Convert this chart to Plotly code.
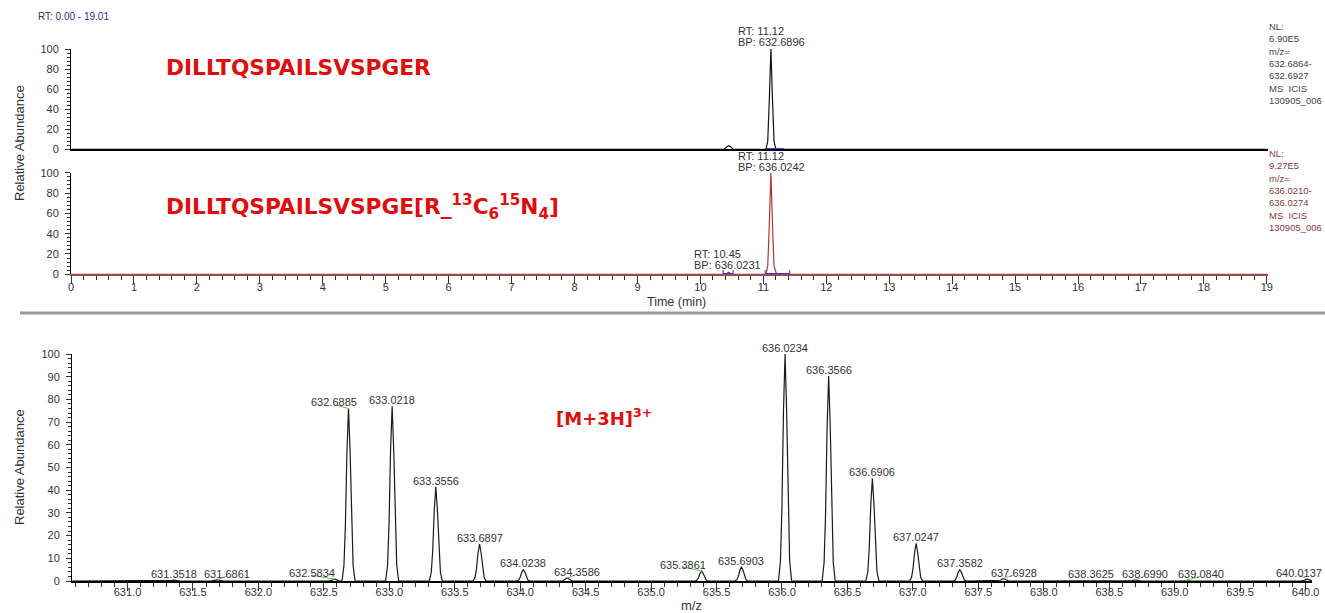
import plotly.graph_objects as go

W, H = 1325, 613

# ---------------- data ----------------
# panel 1: unlabelled peptide XIC (relative abundance vs time, min)
RT_LIGHT = [0.00, 10.38, 10.42, 10.45, 10.48, 10.52, 11.04, 11.07, 11.095, 11.12, 11.145, 11.17, 11.20, 19.01]
AB_LIGHT = [0, 0, 2.5, 3.5, 2.5, 0, 0, 8, 50, 100, 50, 8, 0, 0]
# panel 2: heavy labelled peptide XIC
RT_HEAVY = [0.00, 10.40, 10.45, 10.50, 11.04, 11.07, 11.095, 11.12, 11.145, 11.17, 11.21, 19.01]
AB_HEAVY = [0, 0, 2, 0, 0, 8, 50, 100, 50, 8, 0, 0]
# blue peak-detection marks
BLUE1_T = [11.03, 11.32]
BLUE2A_T = [10.36, 10.52]
BLUE2B_T = [11.03, 11.42]

# chromatogram peak labels
LIGHT_RT, LIGHT_BP = "11.12", "632.6896"
HEAVY_RT, HEAVY_BP = "11.12", "636.0242"
MINOR_RT, MINOR_BP = "10.45", "636.0231"

NL_LIGHT = ["NL:", "6.90E5", "m/z=", "632.6864-", "632.6927", "MS  ICIS", "130905_006"]
NL_HEAVY = ["NL:", "9.27E5", "m/z=", "636.0210-", "636.0274", "MS  ICIS", "130905_006"]

# mass spectrum: centroid m/z and relative abundance
PEAK_MZ = [631.3518, 631.6861, 632.5834, 632.6885, 633.0218, 633.3556, 633.6897,
           634.0238, 634.3586, 635.3861, 635.6903, 636.0234, 636.3566, 636.6906,
           637.0247, 637.3582, 637.6928, 638.3625, 638.6990, 639.0840, 640.0137]
PEAK_INT = [0.4, 0.5, 0.8, 76, 77, 41.5, 16.3,
            5.1, 1.3, 4.4, 6.3, 100, 90.3, 45.2,
            16.6, 5.1, 1.0, 0.3, 0.5, 0.3, 0.8]

RT_RANGE = [0.0, 19.01]
MZ_RANGE = [630.576, 640.049]

# ---------------- styles ----------------
# label horizontal offsets (px) and profile peak template (shape only)
LABEL_DX = [0, 10, -23, -15, 0, 0, 0, 0, 10, -19, 0, 0, 0, 0, 0, 0, 10, 0, 10, 15, -8]
SHAPE_DX = [-0.05, -0.035, -0.024, -0.012, 0.0, 0.012, 0.024, 0.035, 0.05]
SHAPE_FR = [0, 0.09, 0.32, 0.75, 1, 0.75, 0.32, 0.09, 0]

TXT = "#333333"
FONT = "Liberation Sans, Arial, sans-serif"
RED = "#e00d0d"


def X(px):
    return px / W


def Y(py):
    return 1 - py / H


fig = go.Figure()

fig.add_trace(go.Scatter(x=RT_LIGHT, y=AB_LIGHT, xaxis="x", yaxis="y", mode="lines",
                         line=dict(color="#111111", width=1.2), hoverinfo="skip"))
fig.add_trace(go.Scatter(x=BLUE1_T, y=[0.8, 0.8], xaxis="x", yaxis="y", mode="lines",
                         line=dict(color="#3a3ac8", width=1.2), hoverinfo="skip"))
fig.add_trace(go.Scatter(x=RT_HEAVY, y=AB_HEAVY, xaxis="x2", yaxis="y2", mode="lines",
                         line=dict(color="#b03434", width=1.2), hoverinfo="skip"))
for seg in (BLUE2A_T, BLUE2B_T):
    fig.add_trace(go.Scatter(x=seg, y=[0.8, 0.8], xaxis="x2", yaxis="y2", mode="lines+markers",
                             marker=dict(symbol="line-ns", size=5, line=dict(color="#3a3ac8", width=1)),
                             line=dict(color="#3a3ac8", width=1.2), hoverinfo="skip"))

# profile spectrum built from the centroid list
sx, sy = [MZ_RANGE[0]], [0]
for mz, a in zip(PEAK_MZ, PEAK_INT):
    for d, f in zip(SHAPE_DX, SHAPE_FR):
        sx.append(mz + d)
        sy.append(a * f)
sx.append(MZ_RANGE[1])
sy.append(0)
fig.add_trace(go.Scatter(x=sx, y=sy, xaxis="x3", yaxis="y3", mode="lines",
                         line=dict(color="#1a1a1a", width=1.2), hoverinfo="skip"))

tickfont = dict(family=FONT, size=11, color=TXT)


def yax(dom, dtick, mdtick):
    return dict(domain=dom, range=[0, 100], showline=True, linecolor="black", linewidth=1,
                ticks="outside", ticklen=5, tickcolor=TXT, dtick=dtick, tick0=0,
                minor=dict(ticks="outside", dtick=mdtick, tick0=0, ticklen=3, tickcolor=TXT),
                tickfont=tickfont, showgrid=False, zeroline=False, ticklabelstandoff=4,
                fixedrange=True, automargin=False)


annotations = []


def ann(text, x, y, xref="paper", yref="paper", xanchor="left", yanchor="middle",
        size=11, color=TXT, family=FONT, xshift=0, yshift=0, align="left", angle=0):
    annotations.append(dict(text=text, x=x, y=y, xref=xref, yref=yref, xanchor=xanchor,
                            yanchor=yanchor, showarrow=False, align=align, textangle=angle,
                            xshift=xshift, yshift=yshift,
                            font=dict(family=family, size=size, color=color)))


ann('RT: <span style="color:#2e2e8a">%.2f - %.2f</span>' % (RT_RANGE[0], RT_RANGE[1]),
    X(36), Y(17), size=10)
ann("<br>".join(NL_LIGHT), X(1267), Y(19), yanchor="top", size=9.5, color="#444444")
ann("<br>".join(NL_HEAVY), X(1267), Y(146), yanchor="top", size=9.5, color="#8b3a3a")

ann("Relative Abundance", X(19), Y(143), xanchor="center", size=13, angle=-90)
ann("Relative Abundance", X(19), Y(467), xanchor="center", size=13, angle=-90)
ann("Time (min)", X(676), Y(302), xanchor="center", size=12.5)
ann("m/z", X(692), Y(605), xanchor="center", size=13)

TFONT = "DejaVu Sans, Verdana, sans-serif"
ann("<b>DILLTQSPAILSVSPGER</b>", X(164), Y(67), size=21.7, color=RED, family=TFONT)
ann("<b>DILLTQSPAILSVSPGE[R_<sup>13</sup>C<sub>6</sub><sup>15</sup>N<sub>4</sub>]</b>",
    X(164), Y(207), size=21.7, color=RED, family=TFONT)
ann("<b>[M+3H]<sup>3+</sup></b>", X(554), Y(417), size=18, color=RED, family=TFONT)

# chromatogram peak labels
ann("RT: " + LIGHT_RT, float(LIGHT_RT), 100, "x", "y", yanchor="bottom", xshift=-35, yshift=10)
ann("BP: " + LIGHT_BP, float(LIGHT_RT), 100, "x", "y", yanchor="bottom", xshift=-35, yshift=-1)
ann("RT: " + HEAVY_RT, float(HEAVY_RT), 100, "x2", "y2", yanchor="bottom", xshift=-35, yshift=9)
ann("BP: " + HEAVY_BP, float(HEAVY_RT), 100, "x2", "y2", yanchor="bottom", xshift=-35, yshift=-2)
ann("RT: " + MINOR_RT, float(MINOR_RT), 2, "x2", "y2", yanchor="bottom", xshift=-37, yshift=10)
ann("BP: " + MINOR_BP, float(MINOR_RT), 2, "x2", "y2", yanchor="bottom", xshift=-37, yshift=-1)

shapes = []
for mz, a, dx in zip(PEAK_MZ, PEAK_INT, LABEL_DX):
    ann("%.4f" % mz, mz, a, "x3", "y3", xanchor="center", yanchor="bottom", xshift=dx, yshift=-2)
    if dx != 0:
        shapes.append(dict(type="line", xref="x3", yref="y3", xsizemode="pixel", ysizemode="pixel",
                           xanchor=mz, yanchor=a, x0=dx, x1=0, y0=4, y1=0,
                           line=dict(color="#6cbf6c", width=1)))

shapes.append(dict(type="line", xref="paper", yref="paper", x0=X(20), x1=1, y0=Y(313), y1=Y(313),
                   line=dict(color="#9a9a9a", width=3)))

fig.update_layout(
    width=W, height=H, autosize=False, margin=dict(l=0, r=0, t=0, b=0, autoexpand=False),
    paper_bgcolor="white", plot_bgcolor="white", showlegend=False,
    xaxis=dict(domain=[X(71), X(1267.5)], range=RT_RANGE, anchor="y", showline=True,
               linecolor="black", linewidth=2, ticks="", showticklabels=False,
               showgrid=False, zeroline=False, fixedrange=True, automargin=False),
    yaxis=dict(anchor="x", **yax([Y(149.3), Y(49)], 20, 4)),
    xaxis2=dict(domain=[X(71), X(1267.5)], range=RT_RANGE, anchor="y2", showline=True,
                linecolor="#9c4a4a", linewidth=1.5, ticks="outside", ticklen=8, tickcolor=TXT,
                dtick=1, tick0=0, minor=dict(ticks="outside", dtick=0.2, tick0=0, ticklen=4, tickcolor=TXT),
                tickfont=tickfont, showgrid=False, zeroline=False, ticklabelstandoff=-6,
                fixedrange=True, automargin=False),
    yaxis2=dict(anchor="x2", **yax([Y(274.3), Y(172.7)], 20, 4)),
    xaxis3=dict(domain=[X(72), X(1312)], range=MZ_RANGE, anchor="y3", showline=True,
                linecolor="black", linewidth=1.5, ticks="outside", ticklen=8, tickcolor=TXT,
                dtick=0.5, tick0=631, tickformat=".1f",
                minor=dict(ticks="outside", dtick=0.1, tick0=631, ticklen=4, tickcolor=TXT),
                tickfont=tickfont, showgrid=False, zeroline=False, ticklabelstandoff=-8,
                fixedrange=True, automargin=False),
    yaxis3=dict(anchor="x3", **yax([Y(581), Y(354)], 10, 2)),
    annotations=annotations, shapes=shapes,
)

fig.write_html("out.html", config={"displayModeBar": False})
